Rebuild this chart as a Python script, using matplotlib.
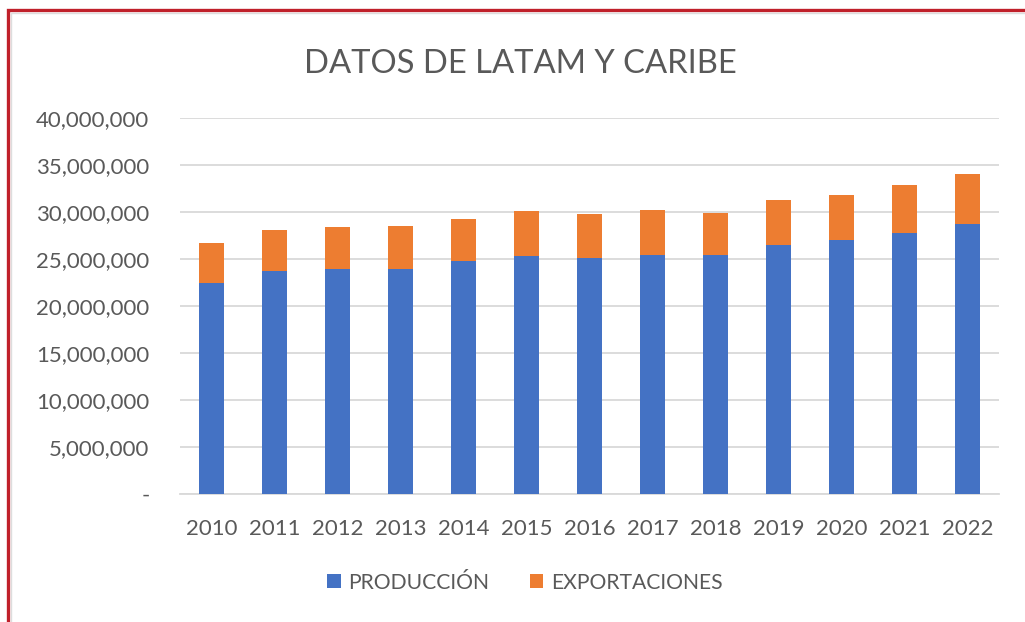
import matplotlib
matplotlib.use("Agg")
import matplotlib.pyplot as plt
from matplotlib.patches import Rectangle
from matplotlib.ticker import FuncFormatter

# ------------------------------------------------------------
# Data
# ------------------------------------------------------------
years = ["2010", "2011", "2012", "2013", "2014", "2015", "2016",
         "2017", "2018", "2019", "2020", "2021", "2022"]
produccion = [22_450_000, 23_700_000, 23_900_000, 23_970_000, 24_750_000,
              25_350_000, 25_070_000, 25_460_000, 25_390_000, 26_520_000,
              27_050_000, 27_800_000, 28_720_000]
exportaciones = [4_280_000, 4_400_000, 4_500_000, 4_530_000, 4_550_000,
                 4_750_000, 4_730_000, 4_790_000, 4_540_000, 4_720_000,
                 4_730_000, 5_070_000, 5_320_000]

C_BLUE = "#4472C4"
C_ORANGE = "#ED7D31"
TXT = "#595959"
GRID = "#D9D9D9"

plt.rcParams["font.family"] = ["Lato", "DejaVu Sans"]

fig = plt.figure(figsize=(10.25, 6.22), dpi=100)
ax = fig.add_axes([0.1756, 0.2058, 0.7994, 0.6045])

x = range(len(years))
ax.bar(x, produccion, width=0.4, color=C_BLUE, label="PRODUCCIÓN", zorder=3)
ax.bar(x, exportaciones, width=0.4, bottom=produccion, color=C_ORANGE,
       label="EXPORTACIONES", zorder=3)

ax.set_xlim(-0.5, len(years) - 0.5)
ax.set_ylim(0, 40_000_000)
ax.set_yticks(range(0, 40_000_001, 5_000_000))
ax.yaxis.set_major_formatter(FuncFormatter(lambda v, p: "-" if v == 0 else f"{int(v):,}"))
ax.set_xticks(list(x))
ax.set_xticklabels(years)

ax.grid(axis="y", color=GRID, lw=1.3, zorder=0)
for s in ["top", "right", "left"]:
    ax.spines[s].set_visible(False)
ax.spines["bottom"].set_color(GRID)
ax.spines["bottom"].set_linewidth(1.3)
ax.tick_params(axis="both", length=0, colors=TXT, labelsize=16)
ax.tick_params(axis="y", pad=22)
ax.tick_params(axis="x", pad=18)

fig.text(0.508, 0.897, "DATOS DE LATAM Y CARIBE", ha="center", va="center",
         fontsize=23.6, color=TXT)

fig.legend(loc="center", bbox_to_anchor=(0.512, 0.063), ncol=2, frameon=False,
           fontsize=15.2, labelcolor=TXT, handlelength=0.65, handleheight=0.65,
           handletextpad=0.35, columnspacing=1.9)

# outer frame (red border with light inner line)
fig.patches.append(Rectangle((7.5 / 1025, -0.1), 1.2, 612 / 622 + 0.1,
                             transform=fig.transFigure, fill=False,
                             edgecolor="#C0202A", lw=2.4, zorder=10))
fig.patches.append(Rectangle((11 / 1025, -0.1), 1.2, 609 / 622 + 0.1,
                             transform=fig.transFigure, fill=False,
                             edgecolor="#DDDDDD", lw=1.0, zorder=10))

fig.savefig("out.png", dpi=100)
